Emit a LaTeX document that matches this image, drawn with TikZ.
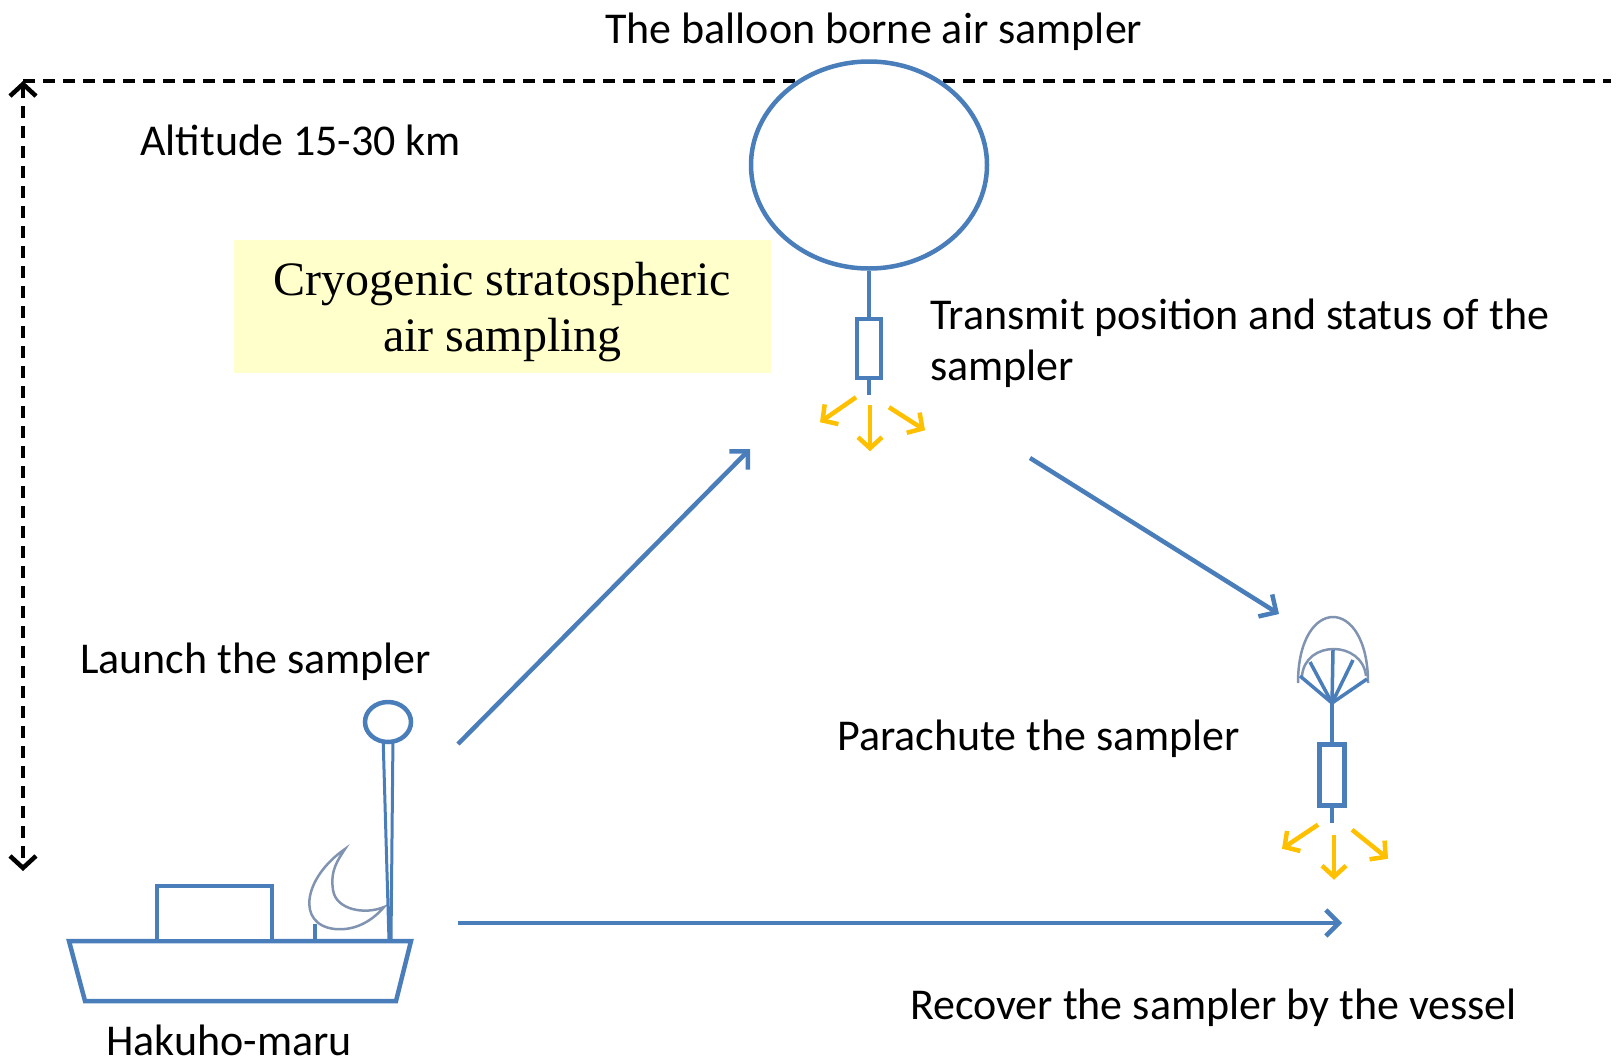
\documentclass[tikz,border=0pt]{standalone}
\usepackage{fontspec}
\setmainfont{Carlito}
\newfontfamily\serifbox{Liberation Serif}
\usetikzlibrary{shapes.geometric, arrows.meta, positioning}
\definecolor{samplerblue}{RGB}{74,126,187}
\definecolor{raygold}{RGB}{255,192,0}
\definecolor{notepaper}{RGB}{255,255,204}
\definecolor{sketchgray}{RGB}{128,148,178}

\begin{document}
\begin{tikzpicture}[x=1pt, y=-1pt,
    words/.style={anchor=base west, inner sep=0pt, font=\fontsize{44}{51}\selectfont},
    part/.style={draw=samplerblue, line width=4.5pt, fill=white, inner sep=0pt},
    tether/.style={draw=samplerblue, line width=4.5pt},
    rib/.style={draw=samplerblue, line width=3.5pt},
    sketch/.style={draw=sketchgray, line width=2.5pt},
    flow/.style={draw=samplerblue, line width=4.5pt, -{Straight Barb[length=13pt, width=26pt]}},
    ray/.style={draw=raygold, line width=4.5pt, -{Straight Barb[length=11pt, width=24pt]}},
    dashline/.style={line width=4.5pt, dash pattern=on 12pt off 8pt}]

    \useasboundingbox (0,0) rectangle (1621,1063);

    \draw[dashline] (23,81) -- (1611,81);
    \draw[dashline, {Straight Barb[length=12pt, width=26pt]}-{Straight Barb[length=12pt, width=26pt]}] (23,81) -- (23,871);

    \node[part, ellipse, minimum width=236pt, minimum height=207pt] (balloon) at (869,165) {};
    \node[part, rectangle, minimum width=24pt, minimum height=59pt, below=46pt of balloon] (sampler) {};
    \draw[tether] (balloon) -- (sampler);
    \draw[tether] (sampler.south) -- ++(0,15);
    \draw[ray] ([shift={(-13,17)}]sampler.south) -- ++(-36,25);
    \draw[ray] ([shift={(1,25)}]sampler.south) -- ++(0,46);
    \draw[ray] ([shift={(20,27)}]sampler.south) -- ++(36,23);

    \node[fill=notepaper, minimum width=537pt, minimum height=133pt, text depth=0pt, align=center,
        font=\serifbox\fontsize{48}{56}\selectfont] (theme) at (502.5,306.5) {Cryogenic stratospheric\\air sampling};

    \draw[sketch] (1298,683) .. controls (1298,595) and (1368,595) .. (1368,683);
    \draw[sketch] (1302,676) .. controls (1305,640) and (1362,640) .. (1366,676);
    \coordinate (apex) at (1332,703);
    \foreach \tip in {(1300,676),(1310,662),(1333,650),(1353,660),(1367,679)}
        \draw[rib] (apex) -- \tip;
    \node[part, rectangle, minimum width=25pt, minimum height=61pt] (chutebox) at (1332,775) {};
    \draw[tether] (apex) -- (chutebox);
    \draw[tether] (chutebox.south) -- ++(0,15);
    \draw[ray] ([shift={(-14,17)}]chutebox.south) -- ++(-36,24);
    \draw[ray] ([shift={(2,27)}]chutebox.south) -- ++(0,45);
    \draw[ray] ([shift={(20,22)}]chutebox.south) -- ++(36,29);

    \draw[part] (69,941) -- (411,941) -- (396,1001) -- (85,1001) -- cycle;
    \draw[part] (157,886) rectangle (272,941);
    \draw[tether] (315,924) -- (315,941);
    \draw[sketch] (345,849) .. controls (303,878) and (296,925) .. (335,929)
        .. controls (356,931) and (373,920) .. (384,907)
        .. controls (365,915) and (336,910) .. (333,890)
        .. controls (330,870) and (338,860) .. (345,849) -- cycle;
    \draw[part, line width=3pt] (383,735) -- (393,735) -- (391,941) -- (389,941) -- cycle;
    \node[part, ellipse, minimum width=46pt, minimum height=40pt] (beacon) at (388,722) {};

    \coordinate (launchtail) at (458,744);
    \coordinate (launchhead) at (750,449);
    \coordinate (droptail) at (1030,458);
    \coordinate (drophead) at (1279,614);
    \coordinate (returntail) at (458,923);
    \coordinate (returnhead) at (1342,923);
    \draw[flow] (launchtail) -- (launchhead);
    \draw[flow] (droptail) -- (drophead);
    \draw[flow] (returntail) -- (returnhead);

    \node[words] (title) at (605,43) {The balloon borne air sampler};
    \node[words] (altitude) at (140,155) {Altitude 15-30 km};
    \node[words, align=left] (transmit) at (930,380) {Transmit position and status of the\\sampler};
    \node[words] (launch) at (80,673) {Launch the sampler};
    \node[words] (parachute) at (837,750) {Parachute the sampler};
    \node[words] (recover) at (910,1019) {Recover the sampler by the vessel};
    \node[words] (vessel) at (106,1055) {Hakuho-maru};
\end{tikzpicture}
\end{document}
